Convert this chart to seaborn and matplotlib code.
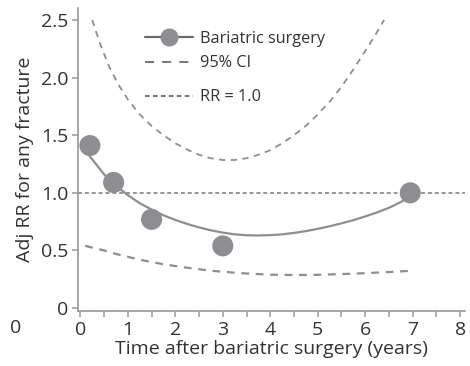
import matplotlib
matplotlib.use("Agg")
import matplotlib.pyplot as plt
from matplotlib.lines import Line2D
from matplotlib.ticker import MultipleLocator
import seaborn as sns

# Observed adjusted relative risks
obs_years = [0.2, 0.7, 1.5, 3.0, 6.95]
obs_rr = [1.41, 1.09, 0.77, 0.54, 1.00]

# Fitted trend
fit_years = [0.1, 0.25, 0.5, 0.75, 1.0, 1.25, 1.5, 1.75, 2.0, 2.25, 2.5, 2.75,
             3.0, 3.25, 3.5, 3.75, 4.0, 4.25, 4.5, 4.75, 5.0, 5.25, 5.5, 5.75,
             6.0, 6.25, 6.5, 6.75, 6.9]
fit_rr = [1.37, 1.29, 1.16, 1.06, 0.98, 0.91, 0.855, 0.805, 0.765, 0.73, 0.70,
          0.675, 0.655, 0.64, 0.632, 0.63, 0.633, 0.64, 0.652, 0.668, 0.688,
          0.71, 0.735, 0.763, 0.795, 0.83, 0.87, 0.92, 0.955]

# 95% confidence bounds
upper_years = [0.25, 0.4, 0.6, 0.8, 1.0, 1.25, 1.5, 1.75, 2.0, 2.25, 2.5, 2.75,
               3.0, 3.25, 3.5, 3.75, 4.0, 4.25, 4.5, 4.75, 5.0, 5.25, 5.5,
               5.75, 6.0, 6.2, 6.4]
upper_rr = [2.5, 2.31, 2.10, 1.94, 1.81, 1.68, 1.58, 1.50, 1.43, 1.375, 1.33,
            1.30, 1.285, 1.285, 1.30, 1.33, 1.37, 1.43, 1.50, 1.58, 1.68, 1.79,
            1.92, 2.07, 2.23, 2.36, 2.5]
lower_years = [0.1, 0.5, 0.75, 1.0, 1.25, 1.5, 1.75, 2.0, 2.25, 2.5, 2.75, 3.0,
               3.5, 4.0, 4.5, 5.0, 5.5, 6.0, 6.5, 6.9]
lower_rr = [0.54, 0.50, 0.47, 0.445, 0.42, 0.40, 0.38, 0.365, 0.35, 0.337,
            0.325, 0.315, 0.30, 0.29, 0.287, 0.289, 0.295, 0.303, 0.313, 0.322]

reference_rr = 1.0
x_ticks = [0, 1, 2, 3, 4, 5, 6, 7, 8]
y_ticks = [0, 0.5, 1.0, 1.5, 2.0, 2.5]
y_tick_labels = ["0", "0.5", "1.0", "1.5", "2.0", "2.5"]

sns.set_style("ticks")
plt.rcParams["font.family"] = ["Open Sans", "DejaVu Sans"]

TEXT = "#333333"
GREY = "#8e8e92"
AXIS = "#9a9a9a"
LEGEND_LINE = "#6e6a6a"
CI_DASH = (0, (3.5, 3.0))
REF_DASH = (0, (2.2, 1.6))

fig = plt.figure(figsize=(4.7, 3.66), dpi=100)
ax = fig.add_axes([0.166, 0.150, 0.823, 0.827])

ax.axhline(reference_rr, color=GREY, lw=1.3, ls=REF_DASH, zorder=1)
sns.lineplot(x=upper_years, y=upper_rr, ax=ax, color=GREY, lw=1.3,
             linestyle=CI_DASH, zorder=2)
sns.lineplot(x=lower_years, y=lower_rr, ax=ax, color=GREY, lw=1.6,
             linestyle=CI_DASH, zorder=2)
sns.lineplot(x=fit_years, y=fit_rr, ax=ax, color=GREY, lw=1.6, zorder=3)
sns.scatterplot(x=obs_years, y=obs_rr, ax=ax, color=GREY, s=230,
                edgecolor="none", zorder=4)

ax.set_xlim(-0.05, 8.1)
ax.set_ylim(-0.026, 2.6)
ax.set_xticks(x_ticks)
ax.xaxis.set_minor_locator(MultipleLocator(0.5))
ax.set_yticks(y_ticks)
ax.set_yticklabels(y_tick_labels)

for side in ("top", "right"):
    ax.spines[side].set_visible(False)
for side in ("left", "bottom"):
    ax.spines[side].set_color(AXIS)
    ax.spines[side].set_linewidth(1.2)

ax.tick_params(axis="both", which="both", direction="out", length=4,
               width=1.1, color=AXIS, labelsize=14, labelcolor=TEXT, pad=3)
ax.tick_params(axis="x", which="minor", length=4)

ax.set_xlabel("Time after bariatric surgery (years)", fontsize=14,
              color=TEXT, labelpad=1)
ax.set_ylabel("Adj RR for any fracture", fontsize=14, color=TEXT,
              labelpad=5)

fig.text(10 / 470, 1 - 328 / 366, "0", fontsize=14, color=TEXT,
         ha="left", va="center")

legend_kw = dict(frameon=False, fontsize=11.7, labelcolor=TEXT,
                 handlelength=3.0, handletextpad=0.4, labelspacing=0.5,
                 borderaxespad=0.0, borderpad=0.0, loc="upper left")
top_handles = [
    Line2D([], [], color=LEGEND_LINE, lw=1.6, marker="o", markersize=12,
           markerfacecolor=GREY, markeredgecolor=GREY),
    Line2D([], [], color=LEGEND_LINE, lw=1.3, ls=(0, (5.0, 4.5))),
]
leg1 = ax.legend(top_handles, ["Bariatric surgery", "95% CI"],
                 bbox_to_anchor=(0.172, 0.925), **legend_kw)
ax.add_artist(leg1)
ax.legend([Line2D([], [], color=LEGEND_LINE, lw=1.3, ls=(0, (2.6, 1.8)))],
          ["RR = 1.0"], bbox_to_anchor=(0.172, 0.733), **legend_kw)

fig.savefig("out.png", dpi=100)
